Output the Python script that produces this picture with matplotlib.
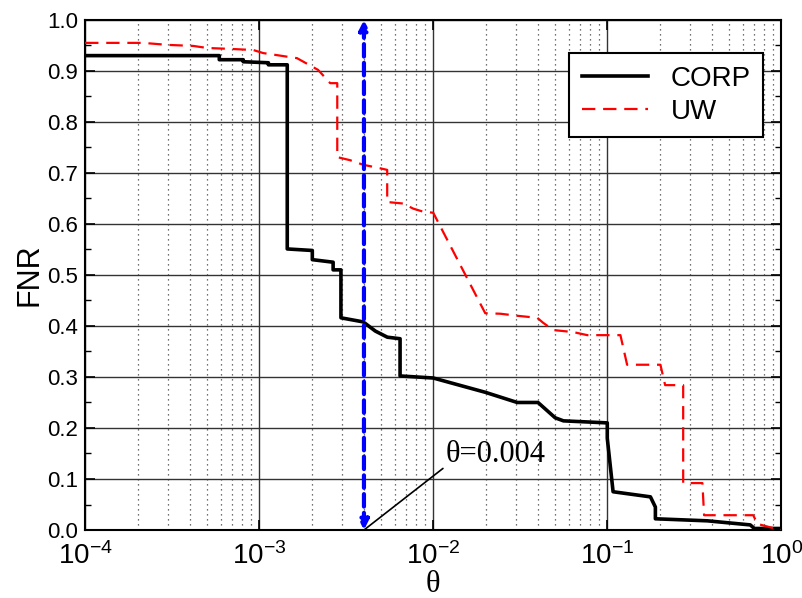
import numpy as np
import matplotlib
matplotlib.use('Agg')
import matplotlib.pyplot as plt
from matplotlib.ticker import LogLocator, MultipleLocator, FixedLocator

plt.rcParams['font.family'] = ['Liberation Sans', 'DejaVu Sans']
plt.rcParams['mathtext.fontset'] = 'custom'
plt.rcParams['mathtext.rm'] = 'Liberation Sans'
plt.rcParams['mathtext.it'] = 'Liberation Sans'

# CORP curve (step vertices)
corp_x = [1e-4, 5.9e-4, 5.9e-4, 8.1e-4, 8.1e-4, 1.13e-3, 1.13e-3, 1.45e-3, 1.45e-3,
          2.02e-3, 2.02e-3, 2.66e-3, 2.66e-3, 2.95e-3, 2.95e-3, 3.96e-3, 4.65e-3,
          5.45e-3, 6.45e-3, 6.45e-3, 0.01, 0.0199, 0.0304, 0.040, 0.0502, 0.056,
          0.1, 0.1, 0.108, 0.177, 0.189, 0.189, 0.376, 0.663, 0.7, 1.0]
corp_y = [0.93, 0.93, 0.922, 0.922, 0.918, 0.916, 0.912, 0.912, 0.551,
          0.548, 0.53, 0.525, 0.51, 0.51, 0.416, 0.408, 0.39,
          0.378, 0.375, 0.302, 0.298, 0.27, 0.25, 0.25, 0.22, 0.214,
          0.21, 0.18, 0.075, 0.065, 0.045, 0.022, 0.018, 0.01, 0.003, 0.003]

# UW curve
uw_x = [1e-4, 2.15e-4, 3.0e-4, 4.18e-4, 5.03e-4, 7.0e-4, 9.24e-4, 1.055e-3, 1.65e-3,
        2.18e-3, 2.56e-3, 2.81e-3, 2.81e-3, 3.33e-3, 3.96e-3, 4.83e-3, 5.44e-3,
        5.44e-3, 6.73e-3, 7.68e-3, 8.77e-3, 0.01, 0.0199, 0.0243, 0.0304, 0.0396,
        0.0429, 0.049, 0.0638, 0.0768, 0.119, 0.130, 0.202, 0.215, 0.273, 0.273,
        0.352, 0.36, 0.69, 0.728, 0.986, 1.0]
uw_y = [0.955, 0.955, 0.951, 0.949, 0.945, 0.943, 0.941, 0.935, 0.925,
        0.902, 0.876, 0.876, 0.731, 0.725, 0.716, 0.71, 0.706,
        0.643, 0.64, 0.63, 0.624, 0.622, 0.425, 0.424, 0.42, 0.416,
        0.406, 0.392, 0.388, 0.382, 0.382, 0.324, 0.324, 0.284, 0.284, 0.092,
        0.092, 0.029, 0.029, 0.012, 0.0, 0.0]

theta = 0.004
x_ticks = [1e-4, 1e-3, 1e-2, 1e-1, 1e0]
x_labels = ['$10^{-4}$', '$10^{-3}$', '$10^{-2}$', '$10^{-1}$', '$10^{0}$']
y_ticks = np.round(np.arange(0, 1.01, 0.1), 1)

serif = ['Liberation Serif', 'DejaVu Serif']

fig = plt.figure(figsize=(8.03, 5.98), dpi=100)
ax = fig.add_axes([0.106, 0.1137, 0.867, 0.853])

ax.plot(corp_x, corp_y, color='black', lw=2.6, label='CORP', zorder=4)
ax.plot(uw_x, uw_y, color='red', lw=1.6, ls=(0, (6, 3.5)), label='UW', zorder=4)

# theta marker
ax.annotate('', xy=(theta, 1.0), xytext=(theta, 0.0),
            arrowprops=dict(arrowstyle='<|-|>', color='blue', lw=3, ls=(0, (3, 1.5)),
                            mutation_scale=14, shrinkA=0, shrinkB=0), zorder=5)
ax.annotate('θ=0.004', xy=(theta, 0.0), xytext=(0.0118, 0.133),
            fontsize=22, family=serif,
            arrowprops=dict(arrowstyle='-', color='black', lw=1.2, shrinkA=0, shrinkB=0,
                            relpos=(0, 0.1)),
            va='baseline', ha='left', zorder=5)

ax.set_xscale('log')
ax.set_xlim(1e-4, 1)
ax.set_ylim(0, 1)
ax.xaxis.set_major_locator(FixedLocator(x_ticks))
ax.set_xticklabels(x_labels)
ax.xaxis.set_minor_locator(LogLocator(base=10, subs=np.arange(2, 10), numticks=20))
ax.yaxis.set_major_locator(FixedLocator(y_ticks))
ax.set_yticklabels(['%.1f' % v for v in y_ticks])
ax.yaxis.set_minor_locator(MultipleLocator(0.05))

ax.grid(which='major', color='#333333', lw=1.0, ls='-')
ax.grid(which='minor', axis='x', color='#444444', lw=0.9, ls=(0, (1, 3)))
ax.tick_params(which='both', direction='in', top=True, right=True)
ax.tick_params(which='major', length=7, width=1.2, labelsize=16)
ax.tick_params(which='minor', length=4, width=1.0)
ax.tick_params(axis='y', which='major', pad=5)
ax.tick_params(axis='x', which='major', labelsize=20, pad=9)
ax.tick_params(axis='x', which='minor', length=0)
for s in ax.spines.values():
    s.set_linewidth(1.5)

ax.set_ylabel('FNR', fontsize=22, labelpad=2)
ax.set_xlabel('θ', fontsize=22, family=serif)
ax.xaxis.set_label_coords(0.5, -0.078)

leg = ax.legend(loc='upper right', bbox_to_anchor=(0.974, 0.935), borderaxespad=0,
                fontsize=20, frameon=True, fancybox=False, edgecolor='black',
                framealpha=1, handlelength=2.4, handletextpad=0.8,
                borderpad=0.45, labelspacing=0.25)
leg.get_frame().set_linewidth(1.5)

fig.savefig('out.png', dpi=100)
